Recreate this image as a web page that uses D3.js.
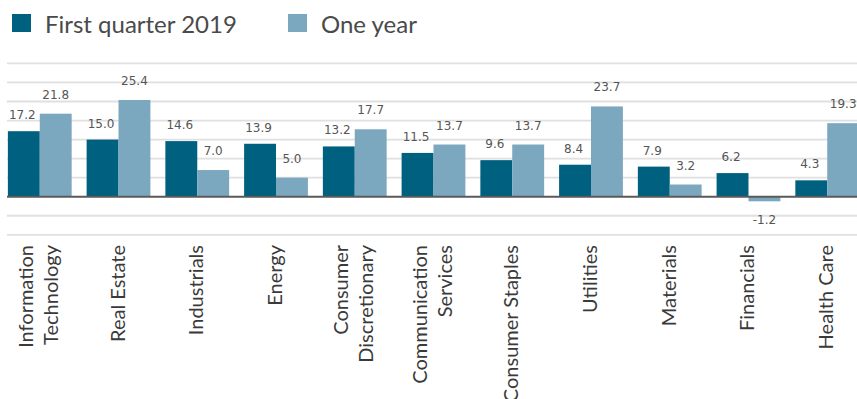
<!DOCTYPE html>
<html>
<head>
<meta charset="utf-8">
<script src="https://cdn.jsdelivr.net/npm/d3@7"></script>
<style>
  html, body { margin: 0; padding: 0; background: #fff; }
  svg { display: block; }
</style>
</head>
<body>
<div id="chart"></div>
<script>
// sector names, split in lines as they are on the axis
const categories = [
  ['Information', 'Technology'],
  ['Real Estate'],
  ['Industrials'],
  ['Energy'],
  ['Consumer', 'Discretionary'],
  ['Communication', 'Services'],
  ['Consumer Staples'],
  ['Utilities'],
  ['Materials'],
  ['Financials'],
  ['Health Care']
];
const seriesNames = ['First quarter 2019', 'One year'];
const firstQuarter = [17.2, 15.0, 14.6, 13.9, 13.2, 11.5, 9.6, 8.4, 7.9, 6.2, 4.3];
const oneYear = [21.8, 25.4, 7.0, 5.0, 17.7, 13.7, 13.7, 23.7, 3.2, -1.2, 19.3];
const gridTicks = [-10, -5, 0, 5, 10, 15, 20, 25, 30, 35];

const width = 857;
const height = 399;
const colors = ['#00607f', '#7ba7bf'];

const svg = d3.select('#chart')
  .append('svg')
  .attr('width', width)
  .attr('height', height)
  .attr('viewBox', [0, 0, width, height]);

const keys = categories.map(d => d.join(' '));

const x = d3.scaleBand()
  .domain(keys)
  .range([0, 867])
  .paddingInner(0.19)
  .paddingOuter(0.1);

const x1 = d3.scaleBand()
  .domain([0, 1])
  .range([0, x.bandwidth()]);

const y = d3.scaleLinear()
  .domain([-10, 35])
  .range([234.8, 63.4]);

// grid lines
svg.append('g')
  .attr('class', 'grid')
  .selectAll('line')
  .data(gridTicks.filter(d => d !== 0))
  .join('line')
  .attr('x1', 7)
  .attr('x2', width)
  .attr('y1', d => y(d))
  .attr('y2', d => y(d))
  .attr('stroke', '#e0e0e0')
  .attr('stroke-width', 1.8);

const rows = keys.map((k, i) => ({ key: k, values: [firstQuarter[i], oneYear[i]] }));

const groups = svg.append('g')
  .selectAll('g')
  .data(rows)
  .join('g')
  .attr('transform', d => `translate(${x(d.key)},0)`);

groups.selectAll('rect')
  .data(d => d.values)
  .join('rect')
  .attr('x', (d, i) => x1(i))
  .attr('width', x1.bandwidth())
  .attr('y', d => y(Math.max(0, d)))
  .attr('height', d => Math.abs(y(d) - y(0)))
  .attr('fill', (d, i) => colors[i]);

// value labels
groups.selectAll('text')
  .data(d => d.values)
  .join('text')
  .attr('x', (d, i) => x1(i) + x1.bandwidth() / 2 - (i === 0 ? 1.5 : 0))
  .attr('y', (d, i) => d < 0 ? y(d) + 23 : y(d) - (i === 0 ? 12 : 15))
  .attr('text-anchor', 'middle')
  .style('font-family', 'DejaVu Sans, sans-serif')
  .style('font-size', '12px')
  .attr('fill', '#555')
  .text(d => d.toFixed(1));

// zero line
svg.append('line')
  .attr('x1', 7)
  .attr('x2', width)
  .attr('y1', y(0))
  .attr('y2', y(0))
  .attr('stroke', '#5a5a5a')
  .attr('stroke-width', 2);

// category labels, rotated
const labelTop = 245;
const catLabels = svg.append('g')
  .selectAll('text')
  .data(categories)
  .join('text')
  .attr('transform', (d, i) => `translate(${x(keys[i]) + x.bandwidth() / 2},${labelTop}) rotate(-90)`)
  .attr('text-anchor', 'end')
  .style('font-family', 'Lato, sans-serif')
  .style('font-size', '20px')
  .attr('fill', '#3a3a3a');

catLabels.selectAll('tspan')
  .data(d => d)
  .join('tspan')
  .attr('x', 0)
  .attr('y', (d, i, nodes) => (i - (nodes.length - 1) / 2) * 25 + 6)
  .text(d => d);

// legend
const legend = svg.append('g')
  .selectAll('g')
  .data(seriesNames)
  .join('g')
  .attr('transform', (d, i) => `translate(${i === 0 ? 12 : 288},14)`);

legend.append('rect')
  .attr('width', 19)
  .attr('height', 18)
  .attr('fill', (d, i) => colors[i]);

legend.append('text')
  .attr('x', 33)
  .attr('y', 19)
  .style('font-family', 'Lato, sans-serif')
  .style('font-size', '24px')
  .attr('fill', '#4a4a4a')
  .text(d => d);
</script>
</body>
</html>
